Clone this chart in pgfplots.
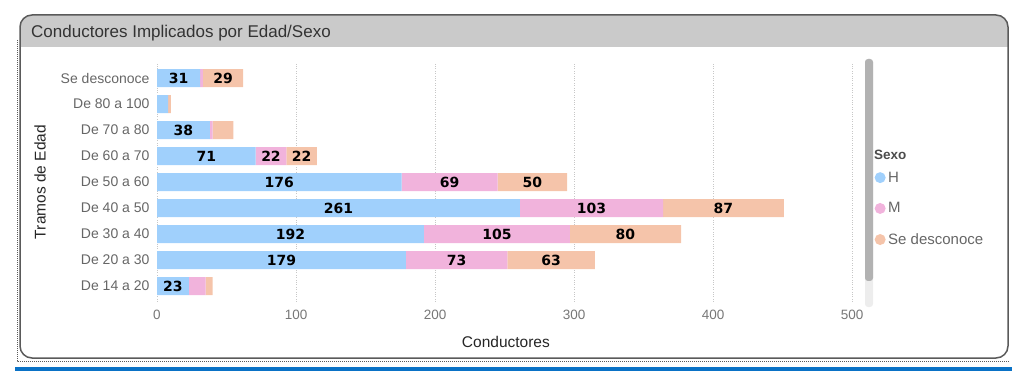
\documentclass[border=0pt]{standalone}
\usepackage{pgfplots}
\pgfplotsset{compat=1.18}
\usepackage{pgfplotstable}
\usepackage{fontspec}
\setmainfont{Liberation Sans}
\newfontfamily\lblfont{DejaVu Sans}
\definecolor{cH}{HTML}{A0D0FC}
\definecolor{cM}{HTML}{F1B3DC}
\definecolor{cD}{HTML}{F5C4AA}
\definecolor{framec}{HTML}{5A5A5A}
\definecolor{band}{HTML}{CACACA}
\definecolor{tickc}{HTML}{777777}
\definecolor{blueline}{HTML}{0A72C6}

\pgfplotstableread{
idx H M D
0 23 12 5
1 179 73 63
2 192 105 80
3 261 103 87
4 176 69 50
5 71 22 22
6 38 2 15
7 8 0 2
8 31 2 29
}\datatable

\pgfplotsset{
  common/.style={
    at={(157pt,78.4pt)}, anchor=south west, scale only axis,
    width=702pt, height=239.2pt,
    xmin=0, xmax=505, ymin=-0.6, ymax=8.6,
    /pgf/number format/assume math mode=true,
  }
}

\begin{document}
\begin{tikzpicture}[x=1pt,y=1pt]
\path[use as bounding box] (0,0) rectangle (1024,380);
\begin{scope}
\clip[rounded corners=12pt] (20,22) rectangle (1008,365);
\fill[band] (20,333) rectangle (1008,365);
\end{scope}
\draw[framec, line width=1.5pt, rounded corners=12pt] (20,22) rectangle (1008,365);
\draw[framec, densely dotted, line width=1pt] (17,340) -- (17,19) -- (1010,19);
\fill[blueline] (15,9) rectangle (1012,13);
\node[anchor=west, font=\fontsize{17}{20}\selectfont, text=black!80, inner sep=0pt] at (31,347) {Conductores Implicados por Edad/Sexo};

\fill[black!7, rounded corners=3pt] (865,73) rectangle (873,321);
\fill[black!30, rounded corners=3pt] (865,99) rectangle (873,321);

\node[anchor=west, font=\bfseries\fontsize{13.5}{15}\selectfont, text=black!70, inner sep=0pt] at (874,225) {Sexo};

\begin{axis}[common,
  xbar stacked, bar width=18pt,
  axis line style={draw=none}, major tick length=0pt,
  xmajorgrids, grid style={dotted, black!22, line width=0.8pt},
  xtick={0,100,...,500},
  ytick={0,...,8},
  yticklabels={De 14 a 20, De 20 a 30, De 30 a 40, De 40 a 50, De 50 a 60, De 60 a 70, De 70 a 80, De 80 a 100, Se desconoce},
  y tick label style={font=\fontsize{14}{16}\selectfont, text=black!60, xshift=-4pt},
  x tick label style={font=\fontsize{13.5}{15}\selectfont, text=tickc, yshift=-5pt},
  xlabel={Conductores}, ylabel={Tramos de Edad},
  xlabel style={at={(axis description cs:0.497,-0.169)}, anchor=center, font=\fontsize{15.5}{17}\selectfont, text=black!85},
  ylabel style={at={(axis description cs:-0.1667,0.5)}, anchor=center, font=\fontsize{15.5}{17}\selectfont, text=black!85},
  legend style={at={(axis description cs:1.022,0.548)}, anchor=north west, draw=none, fill=none, inner sep=0pt,
    font=\fontsize{15}{17}\selectfont, text=black!60, row sep=17pt,
    nodes={inner sep=1pt}},
  legend cell align=left,
  legend image code/.code={\fill[#1, draw=none] (4pt,0pt) circle (5.5pt); \path (11pt,0pt);},
]
\addplot[fill=cH, draw=none] table[x=H, y=idx]{\datatable};
\addplot[fill=cM, draw=none] table[x=M, y=idx]{\datatable};
\addplot[fill=cD, draw=none] table[x=D, y=idx]{\datatable};
\legend{H, M, Se desconoce}
\end{axis}

\begin{axis}[common, hide axis,
  nodes near coords, point meta=explicit, unbounded coords=discard,
  every node near coord/.append style={anchor=center, font=\lblfont\bfseries\fontsize{14}{15}\selectfont, text=black},
]
\addplot[only marks, mark=none] table[x expr={\thisrow{H}<20 ? nan : \thisrow{H}/2}, y=idx, meta=H]{\datatable};
\addplot[only marks, mark=none] table[x expr={\thisrow{M}<20 ? nan : \thisrow{H}+\thisrow{M}/2}, y=idx, meta=M]{\datatable};
\addplot[only marks, mark=none] table[x expr={\thisrow{D}<20 ? nan : \thisrow{H}+\thisrow{M}+\thisrow{D}/2}, y=idx, meta=D]{\datatable};
\end{axis}
\end{tikzpicture}
\end{document}
